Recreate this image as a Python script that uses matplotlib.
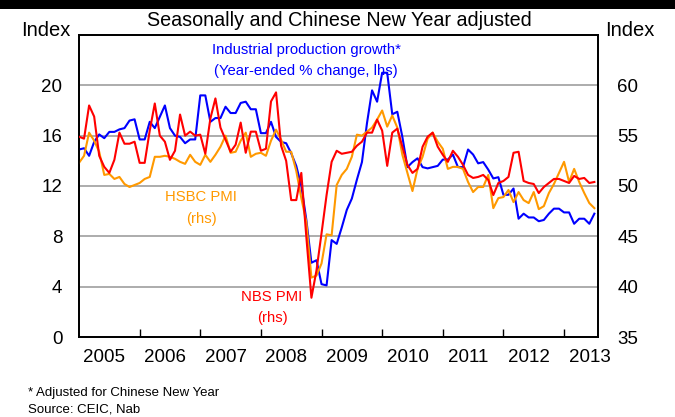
import matplotlib
matplotlib.use("Agg")
import matplotlib.pyplot as plt
from matplotlib.patches import Rectangle
import numpy as np

plt.rcParams['font.family'] = ['Liberation Sans', 'DejaVu Sans']

# ---- data (monthly, Jan 2005 - Jul 2013) ----
start_year = 2005
ip_growth = [
    14.9, 15.0, 14.4, 15.5, 16.1, 15.8, 16.3, 16.3, 16.5, 16.6, 17.2, 17.3,
    15.7, 15.7, 17.1, 16.6, 17.5, 18.4, 16.6, 16.0, 15.9, 15.4, 15.7, 15.7,
    19.2, 19.2, 17.1, 17.4, 17.4, 18.3, 17.8, 17.8, 18.6, 18.7, 18.1, 18.1,
    16.2, 16.2, 17.1, 15.9, 15.5, 15.4, 14.6, 13.6, 12.0, 9.3, 5.9, 6.1,
    4.2, 4.1, 7.7, 7.4, 8.7, 10.1, 11.0, 12.5, 13.9, 17.0, 19.6, 18.7,
    21.0, 21.0, 17.7, 17.9, 15.9, 13.5, 13.9, 14.2, 13.5, 13.4, 13.5, 13.6,
    14.1, 14.1, 14.5, 13.5, 13.5, 14.9, 14.5, 13.8, 13.9, 13.3, 12.6, 12.7,
    11.3, 11.3, 11.8, 9.4, 9.8, 9.5, 9.5, 9.2, 9.3, 9.8, 10.2, 10.2,
    9.9, 9.9, 9.0, 9.4, 9.4, 9.0, 9.8,
]
nbs_pmi = [
    54.9, 54.7, 58.0, 56.9, 53.0, 51.9, 51.3, 52.6, 55.3, 54.2, 54.2, 54.4,
    52.3, 52.3, 55.5, 58.2, 55.0, 54.4, 52.6, 53.5, 57.1, 55.0, 55.4, 55.0,
    55.1, 53.2, 56.7, 58.7, 55.8, 54.6, 53.4, 54.1, 56.3, 53.3, 55.4, 55.4,
    53.5, 53.7, 58.4, 59.3, 54.0, 52.5, 48.6, 48.6, 51.3, 44.9, 38.9, 41.6,
    45.3, 49.1, 52.4, 53.5, 53.2, 53.3, 53.4, 54.0, 54.4, 55.3, 55.3, 56.6,
    55.5, 52.0, 55.3, 55.7, 53.9, 52.1, 51.3, 51.7, 53.9, 54.9, 55.3, 53.9,
    53.1, 52.4, 53.5, 52.9, 52.1, 51.1, 50.8, 50.9, 51.1, 50.6, 49.1, 50.3,
    50.5, 50.9, 53.3, 53.4, 50.5, 50.3, 50.2, 49.3, 49.9, 50.3, 50.7, 50.7,
    50.5, 50.3, 51.0, 50.7, 50.8, 50.3, 50.4,
]
hsbc_pmi = [
    52.3, 53.0, 55.3, 54.5, 53.4, 51.1, 51.2, 50.7, 50.9, 50.2, 49.9, 50.1,
    50.3, 50.7, 50.9, 52.9, 52.9, 53.0, 52.9, 52.7, 52.4, 52.2, 53.1, 52.4,
    52.1, 53.1, 52.4, 53.1, 53.9, 55.0, 53.3, 53.4, 54.5, 55.3, 52.9, 53.2,
    53.3, 53.0, 54.5, 55.6, 54.6, 53.4, 53.4, 51.5, 48.8, 46.4, 40.9, 41.1,
    42.3, 45.2, 45.1, 50.1, 51.1, 51.7, 52.9, 55.1, 55.0, 55.4, 55.8, 56.6,
    57.5, 55.9, 57.0, 55.8, 53.1, 51.3, 49.5, 51.7, 52.9, 54.7, 55.3, 54.4,
    53.7, 51.7, 51.9, 51.9, 51.7, 50.4, 49.4, 49.9, 49.9, 51.1, 47.8, 48.8,
    48.9, 49.6, 48.4, 49.4, 48.6, 48.3, 49.4, 47.7, 48.0, 49.3, 50.2, 51.3,
    52.4, 50.4, 51.7, 50.4, 49.3, 48.3, 47.8,
]
year_labels = ['2005', '2006', '2007', '2008', '2009', '2010', '2011', '2012', '2013']
left_ticks = [0, 4, 8, 12, 16, 20]
right_ticks = [35, 40, 45, 50, 55, 60]

n = len(ip_growth)
x = start_year + np.arange(n) / 12.0

fig = plt.figure(figsize=(6.75, 4.17), dpi=100)
ax = fig.add_axes([79/675, 1-337/417, (598-79)/675, (337-35)/417])
ax2 = ax.twinx()

blue = '#0000FF'
red = '#FF0000'
orange = '#FF9900'

# gridlines
for v in left_ticks[1:]:
    ax.axhline(v, color='#A6A6A6', lw=1.3, zorder=0)

ax2.plot(x, hsbc_pmi, color=orange, lw=1.5, zorder=2)
ax.plot(x, ip_growth, color=blue, lw=1.5, zorder=3)
ax2.plot(x, nbs_pmi, color=red, lw=1.5, zorder=4)

ax.set_xlim(2005, 2013.56)
ax.set_ylim(0, 24)
ax2.set_ylim(35, 65)

ax.set_yticks(left_ticks)
ax.set_yticklabels([str(v) for v in left_ticks])
ax2.set_yticks(right_ticks)
ax2.set_yticklabels([str(v) for v in right_ticks])

ax.tick_params(axis='y', length=0, pad=12, labelsize=13.5)
ax2.tick_params(axis='y', length=0, pad=14, labelsize=13.5)

years = [int(y) for y in year_labels]
ax.set_xticks(years[1:])
ax.set_xticklabels([])
ax.set_xticks([y + 0.42 for y in years], minor=True)
ax.set_xticklabels(year_labels, minor=True)
ax.tick_params(axis='x', which='major', direction='in', length=6, width=1.0, color='black')
ax.tick_params(axis='x', which='minor', length=0, pad=9, labelsize=13.5)

for a in (ax, ax2):
    for s in a.spines.values():
        s.set_linewidth(1.3)
        s.set_color('black')

# texts
fig.text(339/675, 1-20/417, 'Seasonally and Chinese New Year adjusted', ha='center', va='center', fontsize=14.2)
fig.text(46/675, 1-31/417, 'Index', ha='center', va='center', fontsize=14.5)
fig.text(630/675, 1-31/417, 'Index', ha='center', va='center', fontsize=14.5)

fig.text(306/675, 1-50/417, 'Industrial production growth*', ha='center', va='center', fontsize=10.7, color=blue)
fig.text(306/675, 1-71/417, '(Year-ended % change, lhs)', ha='center', va='center', fontsize=10.7, color=blue)
fig.text(201/675, 1-197/417, 'HSBC PMI', ha='center', va='center', fontsize=10.7, color=orange)
fig.text(201/675, 1-219/417, '(rhs)', ha='center', va='center', fontsize=10.7, color=orange)
fig.text(272/675, 1-297/417, 'NBS PMI', ha='center', va='center', fontsize=10.7, color=red)
fig.text(272/675, 1-318/417, '(rhs)', ha='center', va='center', fontsize=10.7, color=red)

fig.text(28/675, 1-393/417, '* Adjusted for Chinese New Year', ha='left', va='center', fontsize=9.5)
fig.text(28/675, 1-409/417, 'Source: CEIC, Nab', ha='left', va='center', fontsize=9.5)

fig.patches.append(Rectangle((0, 1-9/417), 1, 9/417, transform=fig.transFigure,
                             facecolor='black', edgecolor='none', zorder=10))

fig.savefig('out.png', dpi=100)
